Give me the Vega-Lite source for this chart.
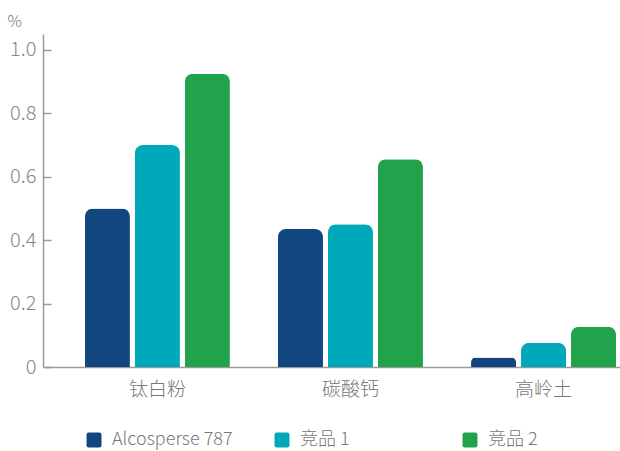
{
  "$schema": "https://vega.github.io/schema/vega-lite/v6.json",
  "autosize": "none",
  "padding": {"left": 43, "top": 34, "right": 0, "bottom": 84},
  "width": 577,
  "height": 333,
  "background": "white",
  "config": {
    "view": {"stroke": null},
    "font": "Noto Sans CJK SC",
    "axis": {"labelFont": "Noto Sans CJK SC", "labelFontWeight": 300}
  },
  "data": {
    "values": [
      {"material": "钛白粉", "product": "Alcosperse 787", "value": 0.50},
      {"material": "钛白粉", "product": "竞品 1", "value": 0.70},
      {"material": "钛白粉", "product": "竞品 2", "value": 0.925},
      {"material": "碳酸钙", "product": "Alcosperse 787", "value": 0.435},
      {"material": "碳酸钙", "product": "竞品 1", "value": 0.45},
      {"material": "碳酸钙", "product": "竞品 2", "value": 0.655},
      {"material": "高岭土", "product": "Alcosperse 787", "value": 0.03},
      {"material": "高岭土", "product": "竞品 1", "value": 0.076},
      {"material": "高岭土", "product": "竞品 2", "value": 0.127}
    ]
  },
  "mark": {"type": "bar", "cornerRadiusTopLeft": 8, "cornerRadiusTopRight": 8},
  "encoding": {
    "x": {
      "field": "material",
      "type": "nominal",
      "sort": ["钛白粉", "碳酸钙", "高岭土"],
      "scale": {"paddingInner": 0.249, "paddingOuter": 0.119, "align": 0.913},
      "axis": {
        "title": null,
        "labelAngle": 0,
        "ticks": false,
        "domainColor": "#9a9a9a",
        "domainWidth": 1.5,
        "labelColor": "#777777",
        "labelFontSize": 19,
        "labelPadding": 13
      }
    },
    "xOffset": {
      "field": "product",
      "type": "nominal",
      "sort": ["Alcosperse 787", "竞品 1", "竞品 2"],
      "scale": {"paddingInner": 0.1, "paddingOuter": 0}
    },
    "y": {
      "field": "value",
      "type": "quantitative",
      "scale": {"domain": [0, 1.05], "nice": false},
      "axis": {
        "title": "%",
        "titleAngle": 0,
        "titleAlign": "left",
        "titleX": -36,
        "titleY": -5,
        "titleFontSize": 16,
        "titleFontWeight": 300,
        "titleColor": "#777777",
        "values": [0, 0.2, 0.4, 0.6, 0.8, 1.0],
        "labelExpr": "datum.value == 0 ? '0' : format(datum.value, '.1f')",
        "grid": false,
        "domainColor": "#9a9a9a",
        "domainWidth": 1.5,
        "tickColor": "#9a9a9a",
        "tickWidth": 1.5,
        "tickSize": -8,
        "labelColor": "#888888",
        "labelFontSize": 20,
        "labelPadding": 15
      }
    },
    "color": {
      "field": "product",
      "type": "nominal",
      "sort": ["Alcosperse 787", "竞品 1", "竞品 2"],
      "scale": {"range": ["#12467f", "#00a9b9", "#22a24a"]},
      "legend": {
        "title": null,
        "orient": "none",
        "legendX": 42,
        "legendY": 397,
        "direction": "horizontal",
        "columns": 3,
        "gridAlign": "all",
        "columnPadding": 40,
        "padding": 0,
        "symbolType": "M-0.7,-1H0.7Q1,-1 1,-0.7V0.7Q1,1 0.7,1H-0.7Q-1,1 -1,0.7V-0.7Q-1,-1 -0.7,-1Z",
        "symbolSize": 225,
        "symbolStrokeWidth": 0,
        "symbolOffset": 0,
        "labelOffset": 9,
        "labelLimit": 400,
        "labelFontSize": 18,
        "labelFontWeight": 300,
        "labelColor": "#777777",
        "labelFont": "Noto Sans CJK SC"
      }
    }
  }
}
